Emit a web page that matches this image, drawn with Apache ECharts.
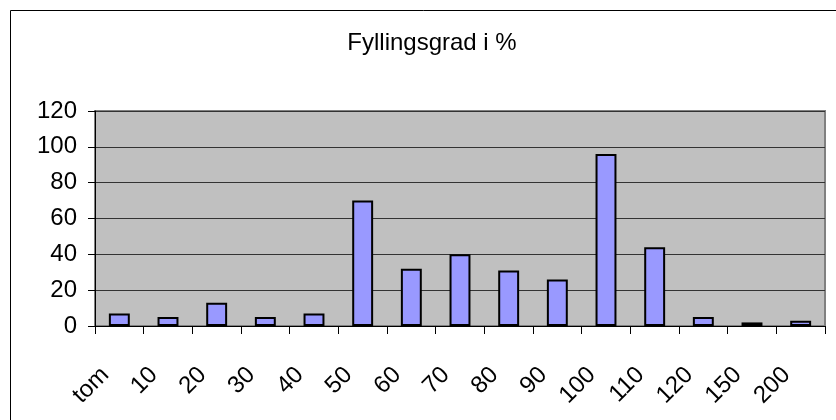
<!DOCTYPE html>
<html>
<head>
<meta charset="utf-8">
<script src="https://cdn.jsdelivr.net/npm/echarts@6/dist/echarts.min.js"></script>
<style>
html,body{margin:0;padding:0;background:#fff;}
#chart{width:836px;height:420px;}
</style>
</head>
<body>
<div id="chart"></div>
<script>
var categories = ['tom','10','20','30','40','50','60','70','80','90','100','110','120','150','200'];
var values = [7, 5, 13, 5, 7, 70, 32, 40, 31, 26, 96, 44, 5, 2, 3];
var yTicks = [0, 20, 40, 60, 80, 100, 120];

var chart = echarts.init(document.getElementById('chart'), null, {renderer: 'canvas'});
var font = 'Liberation Sans, Arial, sans-serif';
chart.setOption({
  animation: false,
  backgroundColor: '#ffffff',
  title: {
    text: 'Fyllingsgrad i %',
    left: 427, top: 26, textAlign: 'center',
    textStyle: {fontFamily: font, fontSize: 24, fontWeight: 'normal', color: '#000'}
  },
  graphic: [{
    type: 'rect', silent: true, z: -1,
    shape: {x: 10.5, y: 10.5, width: 900, height: 500},
    style: {fill: 'none', stroke: '#000', lineWidth: 1}
  }],
  grid: {
    left: 95, right: 11, top: 111, bottom: 94,
    show: true, backgroundColor: '#C0C0C0', borderColor: '#808080', borderWidth: 2
  },
  xAxis: {
    type: 'category',
    data: categories,
    axisLine: {show: true, lineStyle: {color: '#000', width: 1}},
    axisTick: {show: true, length: 8, lineStyle: {color: '#000'}},
    axisLabel: {rotate: 45, margin: 31, padding: [0, 20, 0, 0], interval: 0, fontFamily: font, fontSize: 24, color: '#000'}
  },
  yAxis: {
    type: 'value', min: yTicks[0], max: yTicks[yTicks.length - 1], interval: 20,
    axisLine: {show: true, lineStyle: {color: '#000', width: 1}},
    axisTick: {show: true, length: 7, lineStyle: {color: '#000'}},
    axisLabel: {margin: 18, fontFamily: font, fontSize: 24, color: '#000'},
    splitLine: {show: true, lineStyle: {color: '#333', width: 1}}
  },
  series: [{
    type: 'bar',
    data: values,
    barCategoryGap: '57%',
    itemStyle: {color: '#9999FF', borderColor: '#000', borderWidth: 2}
  }]
});
</script>
</body>
</html>
